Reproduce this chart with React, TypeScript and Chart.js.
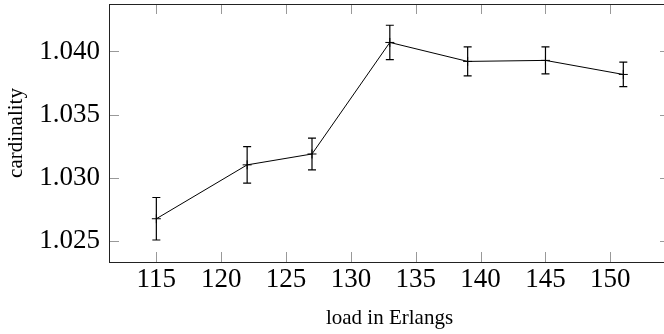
import React, { useEffect, useRef } from "react";
import { Chart, registerables } from "chart.js";

Chart.register(...registerables);

// ---- data ----
const loads = [115, 122, 127, 133, 139, 145, 151];
const cardinality = [1.02677, 1.03103, 1.03189, 1.04071, 1.03921, 1.03929, 1.03818];
const errors = [0.00168, 0.00145, 0.00125, 0.00136, 0.00115, 0.00107, 0.00097];
const xTicks = [115, 120, 125, 130, 135, 140, 145, 150];
const yTicks = [1.025, 1.03, 1.035, 1.04];
const xTitle = "load in Erlangs";
const yTitle = "cardinality";

const CANVAS_W = 672;
const CANVAS_H = 334;
const SERIF = "'Liberation Serif', 'Times New Roman', serif";

const framePlugin = {
  id: "pgfFrame",
  beforeDatasetsDraw(chart: any) {
    const { ctx, chartArea, scales } = chart;
    const { left, right, top, bottom } = chartArea;
    const xs = scales.x;
    const ys = scales.y;
    const len = 10;
    ctx.save();
    ctx.strokeStyle = "#999999";
    ctx.lineWidth = 1;
    ctx.beginPath();
    xTicks.forEach((v) => {
      const px = Math.round(xs.getPixelForValue(v)) + 0.5;
      ctx.moveTo(px, bottom);
      ctx.lineTo(px, bottom - len);
      ctx.moveTo(px, top);
      ctx.lineTo(px, top + len);
    });
    yTicks.forEach((v) => {
      const py = Math.round(ys.getPixelForValue(v)) + 0.5;
      ctx.moveTo(left, py);
      ctx.lineTo(left + len, py);
      ctx.moveTo(right, py);
      ctx.lineTo(right - len, py);
    });
    ctx.stroke();
    ctx.strokeStyle = "#222222";
    ctx.lineWidth = 1;
    ctx.strokeRect(left + 0.5, top + 0.5, right - left - 1, bottom - top);
    ctx.restore();
  },
  afterDatasetsDraw(chart: any) {
    const { ctx, scales } = chart;
    const xs = scales.x;
    const ys = scales.y;
    const cap = 4;
    ctx.save();
    ctx.strokeStyle = "#000000";
    ctx.lineWidth = 1.2;
    ctx.beginPath();
    loads.forEach((lx, i) => {
      const px = xs.getPixelForValue(lx);
      const pt = ys.getPixelForValue(cardinality[i] + errors[i]);
      const pb = ys.getPixelForValue(cardinality[i] - errors[i]);
      ctx.moveTo(px, pt);
      ctx.lineTo(px, pb);
      ctx.moveTo(px - cap, pt);
      ctx.lineTo(px + cap, pt);
      ctx.moveTo(px - cap, pb);
      ctx.lineTo(px + cap, pb);
    });
    ctx.stroke();
    ctx.restore();
  },
};

export default function App() {
  const canvasRef = useRef<HTMLCanvasElement | null>(null);

  useEffect(() => {
    document.documentElement.style.overflow = "hidden";
    document.body.style.overflow = "hidden";
    const canvas = canvasRef.current;
    if (!canvas) return;
    const chart = new Chart(canvas, {
      type: "line",
      data: {
        datasets: [
          {
            data: loads.map((x, i) => ({ x, y: cardinality[i] })),
            borderColor: "#000000",
            borderWidth: 1,
            backgroundColor: "#000000",
            pointStyle: "cross",
            pointRadius: 4.5,
            pointBorderWidth: 1,
            pointBorderColor: "#000000",
            tension: 0,
            fill: false,
          },
        ],
      },
      options: {
        responsive: false,
        animation: false,
        devicePixelRatio: 1,
        layout: { autoPadding: false, padding: { top: 4, right: 2, left: 0, bottom: 0 } },
        plugins: {
          legend: { display: false },
          tooltip: { enabled: false },
        },
        scales: {
          x: {
            type: "linear",
            min: 111.35,
            max: 154.6,
            afterBuildTicks: (s: any) => {
              s.ticks = xTicks.map((v) => ({ value: v }));
            },
            afterFit: (s: any) => {
              s.height = 72;
              s.paddingLeft = 0;
              s.paddingRight = 0;
            },
            grid: { display: false, drawTicks: false },
            border: { display: false },
            ticks: {
              color: "#000000",
              padding: 2,
              maxRotation: 0,
              autoSkip: false,
              font: { family: SERIF, size: 27 },
              callback: (v: any) => String(v),
            },
            title: {
              display: true,
              text: xTitle,
              color: "#000000",
              font: { family: SERIF, size: 21 },
              padding: { top: 0, bottom: 3 },
            },
          },
          y: {
            type: "linear",
            min: 1.02335,
            max: 1.04375,
            afterBuildTicks: (s: any) => {
              s.ticks = yTicks.map((v) => ({ value: v }));
            },
            afterFit: (s: any) => {
              s.width = 109;
              s.paddingTop = 0;
              s.paddingBottom = 0;
            },
            grid: { display: false, drawTicks: false },
            border: { display: false },
            ticks: {
              color: "#000000",
              padding: 9,
              autoSkip: false,
              font: { family: SERIF, size: 27 },
              callback: (v: any) => Number(v).toFixed(3),
            },
            title: {
              display: true,
              text: yTitle,
              color: "#000000",
              font: { family: SERIF, size: 21 },
              padding: { top: 4, bottom: 0 },
            },
          },
        },
      },
      plugins: [framePlugin],
    } as any);
    return () => {
      chart.destroy();
    };
  }, []);

  return (
    <div
      style={{
        position: "fixed",
        left: 0,
        top: 0,
        width: 664,
        height: 334,
        overflow: "hidden",
        background: "#ffffff",
      }}
    >
      <canvas
        ref={canvasRef}
        width={CANVAS_W}
        height={CANVAS_H}
        style={{ display: "block", width: CANVAS_W, height: CANVAS_H }}
      />
    </div>
  );
}
